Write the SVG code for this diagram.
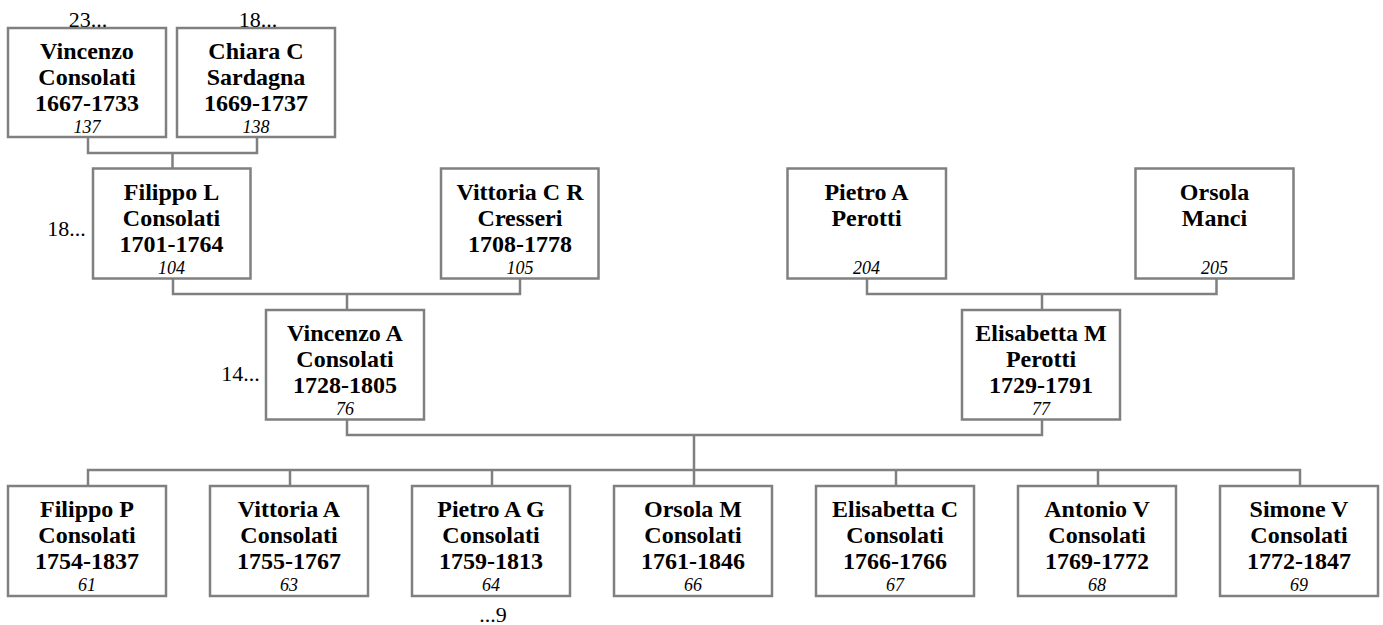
<svg xmlns="http://www.w3.org/2000/svg" width="1383" height="625" viewBox="0 0 1383 625">
<style>
.box{fill:#fff;stroke:#808080;stroke-width:2.5}
.lnk{fill:none;stroke:#808080;stroke-width:2.5}
text{font-family:"Liberation Serif","Times New Roman",serif;text-anchor:middle;fill:#000}
.n{font-size:24px;font-weight:bold}
.id{font-size:18px;font-style:italic}
.m{font-size:22px}
</style>
<rect width="1383" height="625" fill="#fff"/>
<g id="connectors">
<path class="lnk" d="M88,137 V153 H257 V137 M172.5,153 V168.5"/>
<path class="lnk" d="M173,278.5 V294 H520 V278.5 M347,294 V310"/>
<path class="lnk" d="M867,278.5 V294 H1216.5 V278.5 M1042,294 V310"/>
<path class="lnk" d="M347,419.5 V435 H1042 V419.5 M694,435 V470"/>
<path class="lnk" d="M88,486 V470 H1300 V486 M290,470 V486 M492,470 V486 M694,470 V486 M896,470 V486 M1098,470 V486"/>
</g>
<g id="p137">
<rect class="box" x="8" y="28" width="158" height="109"/>
<text class="n" x="87" y="59">Vincenzo</text>
<text class="n" x="87" y="85">Consolati</text>
<text class="n" x="87" y="111">1667-1733</text>
<text class="id" x="87" y="133">137</text>
<text class="m" x="88" y="27">23...</text>
</g>
<g id="p138">
<rect class="box" x="177" y="28" width="158" height="109"/>
<text class="n" x="256" y="59">Chiara C</text>
<text class="n" x="256" y="85">Sardagna</text>
<text class="n" x="256" y="111">1669-1737</text>
<text class="id" x="256" y="133">138</text>
<text class="m" x="258" y="27">18...</text>
</g>
<g id="p104">
<rect class="box" x="93" y="168.5" width="157.5" height="110"/>
<text class="n" x="171.5" y="199.5">Filippo L</text>
<text class="n" x="171.5" y="225.5">Consolati</text>
<text class="n" x="171.5" y="251.5">1701-1764</text>
<text class="id" x="171.5" y="273.5">104</text>
<text class="m" x="66.5" y="236">18...</text>
</g>
<g id="p105">
<rect class="box" x="441" y="168.5" width="157.5" height="110"/>
<text class="n" x="520" y="199.5">Vittoria C R</text>
<text class="n" x="520" y="225.5">Cresseri</text>
<text class="n" x="520" y="251.5">1708-1778</text>
<text class="id" x="520" y="273.5">105</text>
</g>
<g id="p204">
<rect class="box" x="787.5" y="168.5" width="158.5" height="110"/>
<text class="n" x="866.5" y="199.5">Pietro A</text>
<text class="n" x="866.5" y="225.5">Perotti</text>
<text class="id" x="866.5" y="273.5">204</text>
</g>
<g id="p205">
<rect class="box" x="1135.5" y="168.5" width="158" height="110"/>
<text class="n" x="1214.5" y="199.5">Orsola</text>
<text class="n" x="1214.5" y="225.5">Manci</text>
<text class="id" x="1214.5" y="273.5">205</text>
</g>
<g id="p76">
<rect class="box" x="266" y="310" width="158" height="109.5"/>
<text class="n" x="345" y="341">Vincenzo A</text>
<text class="n" x="345" y="367">Consolati</text>
<text class="n" x="345" y="393">1728-1805</text>
<text class="id" x="345" y="415">76</text>
<text class="m" x="240.5" y="381">14...</text>
</g>
<g id="p77">
<rect class="box" x="962" y="310" width="158" height="109.5"/>
<text class="n" x="1041" y="341">Elisabetta M</text>
<text class="n" x="1041" y="367">Perotti</text>
<text class="n" x="1041" y="393">1729-1791</text>
<text class="id" x="1041" y="415">77</text>
</g>
<g id="p61">
<rect class="box" x="8" y="486" width="158" height="110"/>
<text class="n" x="87" y="517">Filippo P</text>
<text class="n" x="87" y="543">Consolati</text>
<text class="n" x="87" y="569">1754-1837</text>
<text class="id" x="87" y="591">61</text>
</g>
<g id="p63">
<rect class="box" x="210" y="486" width="158" height="110"/>
<text class="n" x="289" y="517">Vittoria A</text>
<text class="n" x="289" y="543">Consolati</text>
<text class="n" x="289" y="569">1755-1767</text>
<text class="id" x="289" y="591">63</text>
</g>
<g id="p64">
<rect class="box" x="412" y="486" width="158" height="110"/>
<text class="n" x="491" y="517">Pietro A G</text>
<text class="n" x="491" y="543">Consolati</text>
<text class="n" x="491" y="569">1759-1813</text>
<text class="id" x="491" y="591">64</text>
<text class="m" x="493" y="621.5">...9</text>
</g>
<g id="p66">
<rect class="box" x="614" y="486" width="158" height="110"/>
<text class="n" x="693" y="517">Orsola M</text>
<text class="n" x="693" y="543">Consolati</text>
<text class="n" x="693" y="569">1761-1846</text>
<text class="id" x="693" y="591">66</text>
</g>
<g id="p67">
<rect class="box" x="816" y="486" width="158" height="110"/>
<text class="n" x="895" y="517">Elisabetta C</text>
<text class="n" x="895" y="543">Consolati</text>
<text class="n" x="895" y="569">1766-1766</text>
<text class="id" x="895" y="591">67</text>
</g>
<g id="p68">
<rect class="box" x="1018" y="486" width="158" height="110"/>
<text class="n" x="1097" y="517">Antonio V</text>
<text class="n" x="1097" y="543">Consolati</text>
<text class="n" x="1097" y="569">1769-1772</text>
<text class="id" x="1097" y="591">68</text>
</g>
<g id="p69">
<rect class="box" x="1220" y="486" width="158" height="110"/>
<text class="n" x="1299" y="517">Simone V</text>
<text class="n" x="1299" y="543">Consolati</text>
<text class="n" x="1299" y="569">1772-1847</text>
<text class="id" x="1299" y="591">69</text>
</g>
</svg>
